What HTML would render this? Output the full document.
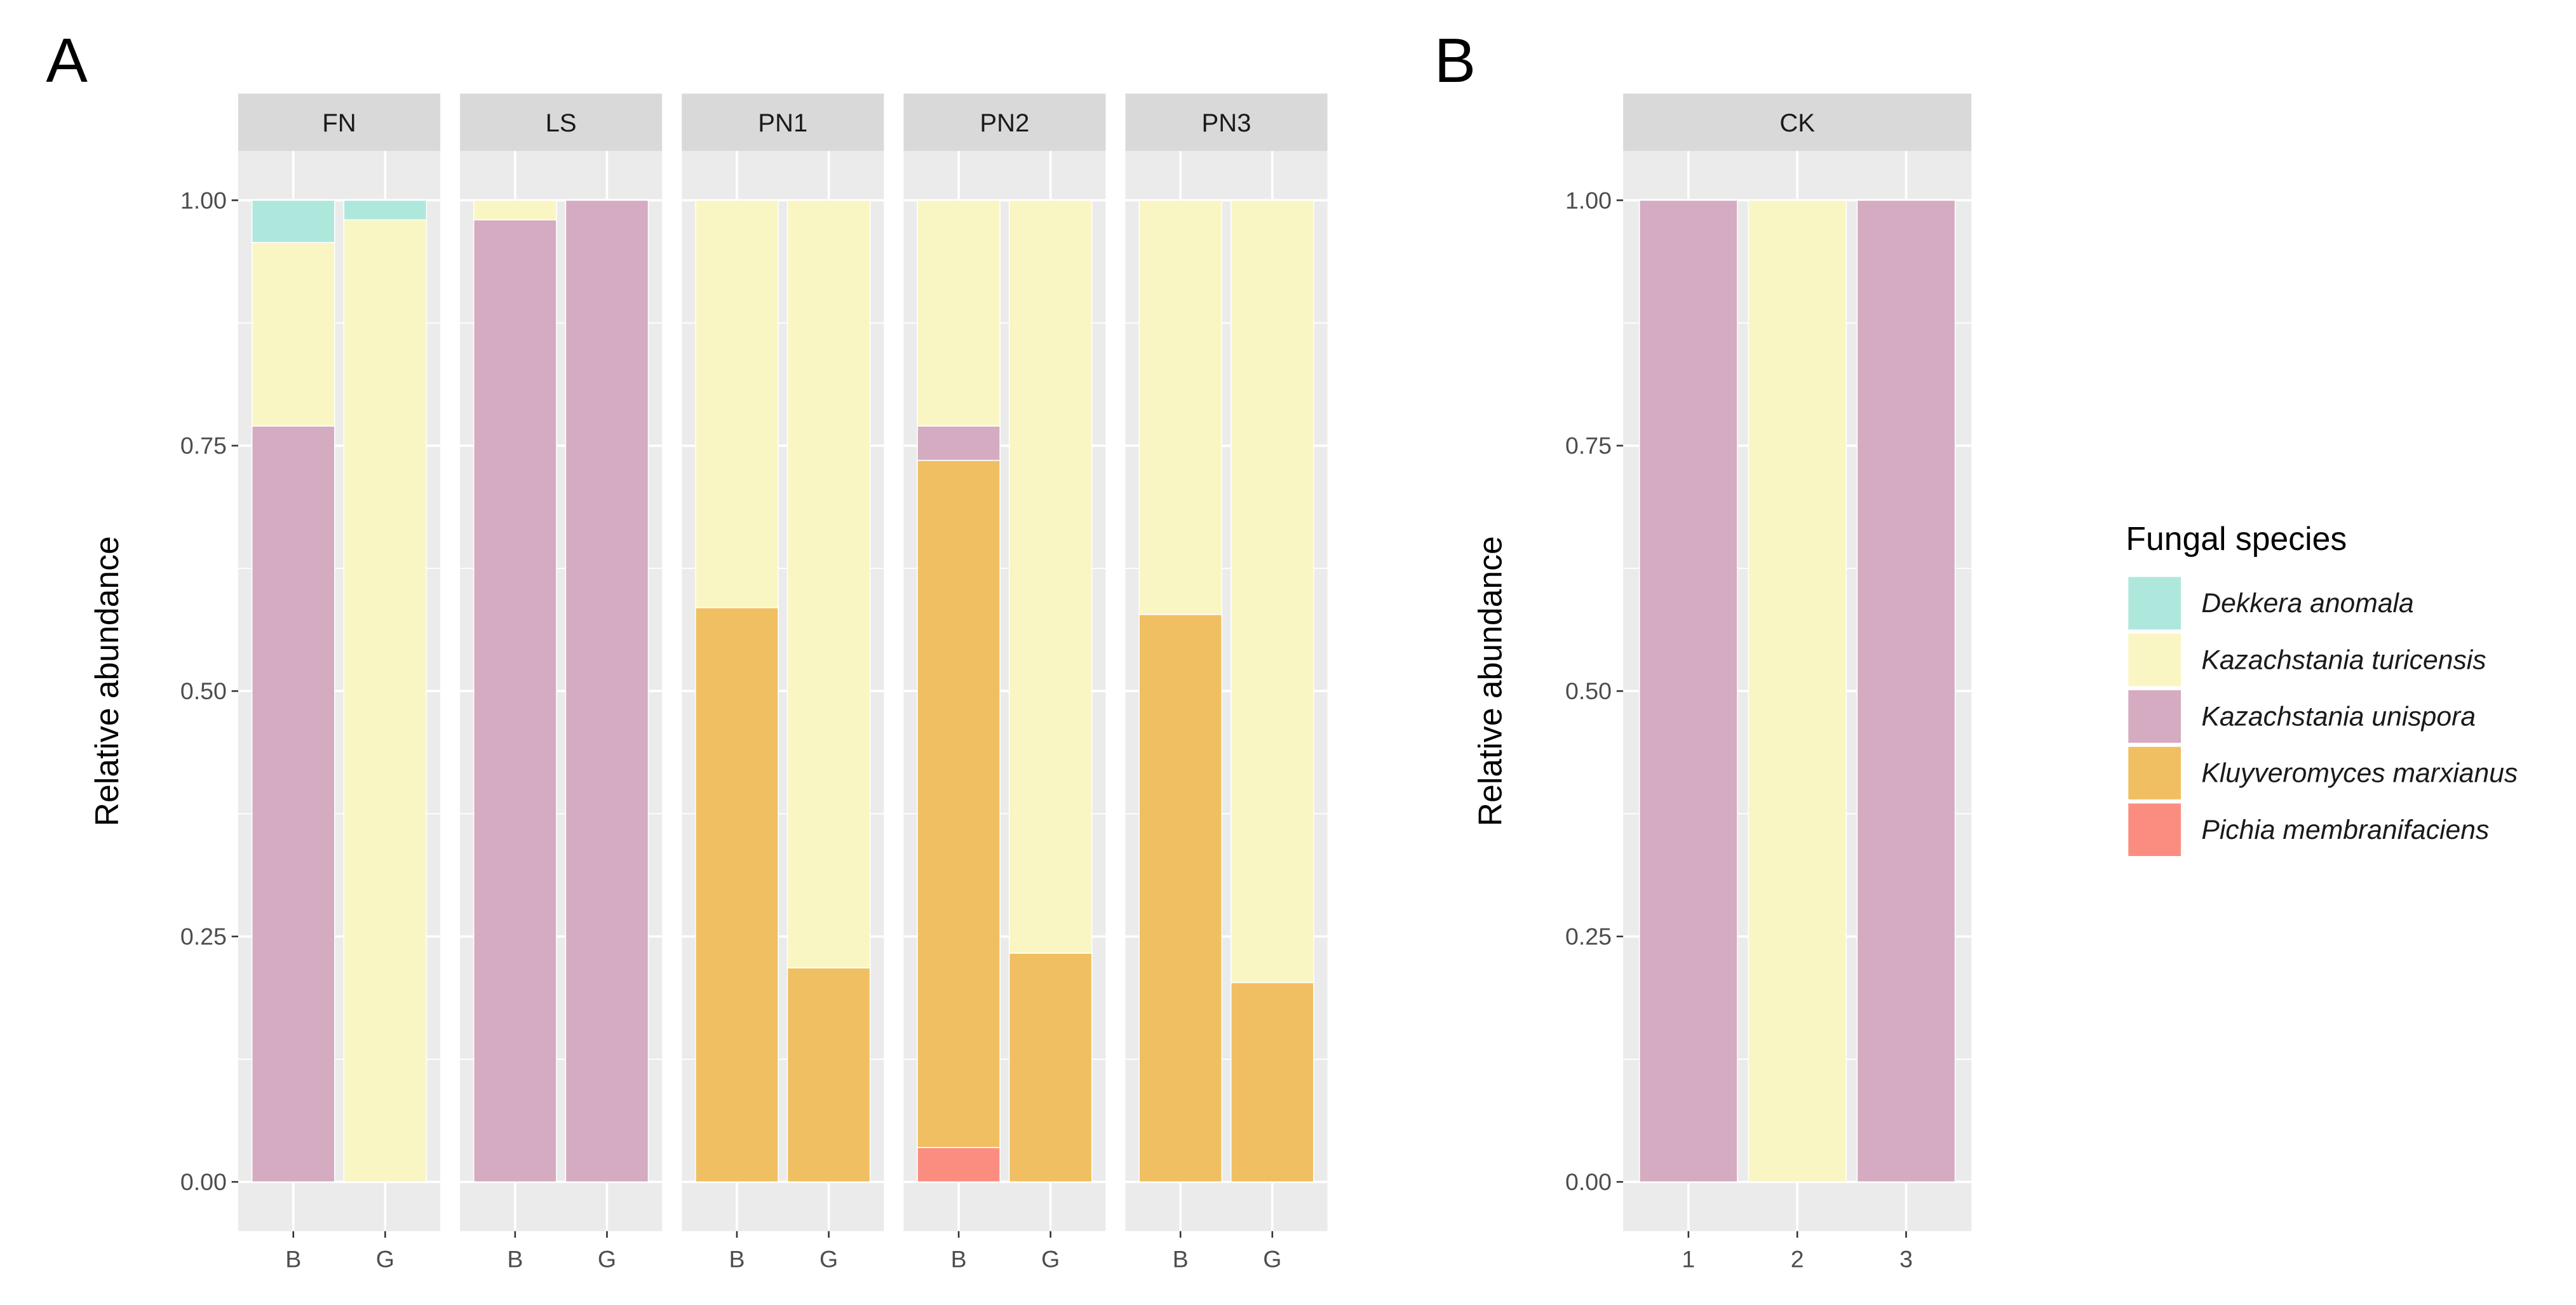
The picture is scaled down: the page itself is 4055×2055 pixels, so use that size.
<!DOCTYPE html>
<html><head><meta charset="utf-8"><style>
html,body{margin:0;padding:0;background:#fff;}
svg{display:block;}
text{font-family:"Liberation Sans",Arial,sans-serif;}
</style></head><body>
<svg id="chart" xmlns="http://www.w3.org/2000/svg" width="4055" height="2055" viewBox="0 0 1568 795" preserveAspectRatio="none">
<rect x="0" y="0" width="1568" height="795" fill="#fff"/>
<text x="28" y="50" font-size="38" fill="#000">A</text>
<text x="873" y="50" font-size="38" fill="#000">B</text>
<g id="plot"></g>
</svg>
<script>
const species = ["Dekkera anomala","Kazachstania turicensis","Kazachstania unispora","Kluyveromyces marxianus","Pichia membranifaciens"];
const colors = ["#aee8dc","#f9f6c3","#d4abc0","#f0bf62","#fb8d80"];
const facetsA = ["FN","LS","PN1","PN2","PN3"];
const groupsA = ["B","G"];
// values per facet per group, order: Dekkera, turicensis, unispora, marxianus, Pichia
const valuesFN = [[0.043,0.187,0.77,0,0],[0.02,0.98,0,0,0]];
const valuesLS = [[0,0.02,0.98,0,0],[0,0,1,0,0]];
const valuesPN1 = [[0,0.415,0,0.585,0],[0,0.782,0,0.218,0]];
const valuesPN2 = [[0,0.23,0.035,0.70,0.035],[0,0.767,0,0.233,0]];
const valuesPN3 = [[0,0.422,0,0.578,0],[0,0.797,0,0.203,0]];
const facetsB = ["CK"];
const groupsB = ["1","2","3"];
const valuesCK = [[0,0,1,0,0],[0,1,0,0,0],[0,0,1,0,0]];
const yTicks = [0,0.25,0.5,0.75,1];
const yTickLabels = ["0.00","0.25","0.50","0.75","1.00"];

const NS="http://www.w3.org/2000/svg";
const root=document.getElementById('plot');
function el(tag,attrs,parent){const e=document.createElementNS(NS,tag);for(const k in attrs)e.setAttribute(k,attrs[k]);(parent||root).appendChild(e);return e;}
const Y0=720, Y1=122;
function yScale(v){return Y0-(Y0-Y1)*v;}
const PT=92, PB=750, ST=57;

function drawPanel(x0,w,name,groups,vals,showY){
  const g=el('g',{});
  
  
  const strip=el('rect',{x:x0,y:ST,width:w,height:PT-ST,fill:'#d9d9d9'},g);
  
  
  const st=el('text',{x:x0+w/2,y:ST+23,'font-size':15.5,'text-anchor':'middle',fill:'#1a1a1a'},g);
  st.textContent=name;
  
  
  el('rect',{x:x0,y:PT,width:w,height:PB-PT,fill:'#ebebeb'},g);
  const n=groups.length; const unit=w/(n-1+1.2);
  const xc=i=>x0+unit*(0.6+i);
  for(let k=0;k<yTicks.length-1;k++){const m=(yTicks[k]+yTicks[k+1])/2;el('line',{x1:x0,x2:x0+w,y1:yScale(m),y2:yScale(m),stroke:'#fff','stroke-width':0.7},g);}
  yTicks.forEach(t=>el('line',{x1:x0,x2:x0+w,y1:yScale(t),y2:yScale(t),stroke:'#fff','stroke-width':1.4},g));
  groups.forEach((gr,i)=>{
    el('line',{x1:xc(i),x2:xc(i),y1:PT,y2:PB,stroke:'#fff','stroke-width':1.4},g);
    let cum=0; const bw=unit*0.9;
    for(let s=species.length-1;s>=0;s--){
      const v=vals[i][s]; if(v<=0)continue;
      const r=el('rect',{x:xc(i)-bw/2,y:yScale(cum+v),width:bw,height:yScale(cum)-yScale(cum+v),fill:colors[s],stroke:'#fff','stroke-width':0.6},g);
      
      
      cum+=v;
    }
    el('line',{x1:xc(i),x2:xc(i),y1:PB,y2:PB+4,stroke:'#333','stroke-width':1},g);
    const tl=el('text',{x:xc(i),y:PB+22,'font-size':14.5,'text-anchor':'middle',fill:'#4d4d4d'},g);
    tl.textContent=gr;
    
    
  });
  if(showY){
    yTicks.forEach((t,k)=>{
      el('line',{x1:x0-4,x2:x0,y1:yScale(t),y2:yScale(t),stroke:'#333','stroke-width':1},g);
      const tl=el('text',{x:x0-7,y:yScale(t)+5,'font-size':14.5,'text-anchor':'end',fill:'#4d4d4d'},g);
      tl.textContent=yTickLabels[k];
      
      
    });
  }
}
const valsA=[valuesFN,valuesLS,valuesPN1,valuesPN2,valuesPN3];
facetsA.forEach((f,i)=>drawPanel(145+i*135,123,f,groupsA,valsA[i],i===0));
drawPanel(988,212,facetsB[0],groupsB,valuesCK,true);

function yTitle(x){const t=el('text',{x:x,y:415,'font-size':20,'text-anchor':'middle',fill:'#000',transform:'rotate(-90 '+x+' 415)'});t.textContent='Relative abundance';

}
yTitle(72);yTitle(914);

const lg=el('g',{});


const lt=el('text',{x:1294,y:335,'font-size':20,fill:'#000'},lg);lt.textContent='Fungal species';


species.forEach((s,i)=>{
  const y=351+i*34.5;
  const e=el('g',{},lg);
  
  
  el('rect',{x:1295,y:y,width:33,height:33,fill:colors[i],stroke:'#fff','stroke-width':1},e);
  const t=el('text',{x:1340,y:y+22,'font-size':16.5,'font-style':'italic',fill:'#1a1a1a'},e);t.textContent=s;
});
</script>
</body></html>
